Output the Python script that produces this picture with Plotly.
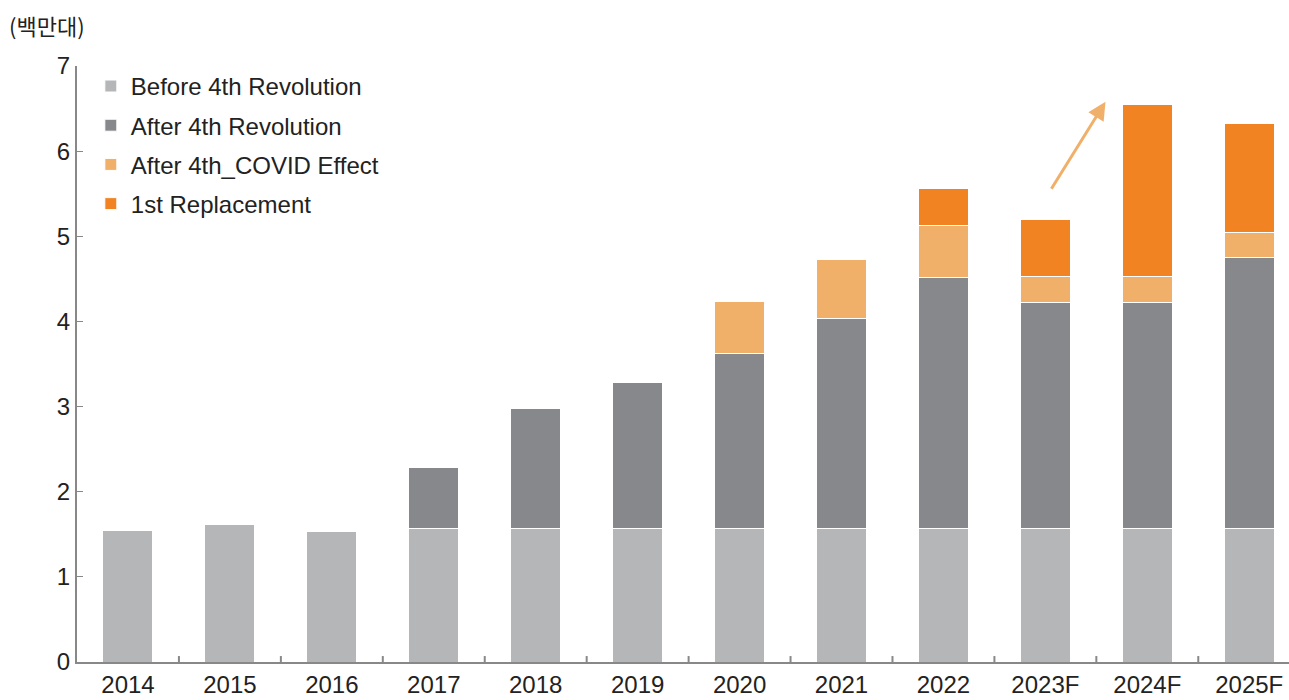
import plotly.graph_objects as go

years = ["2014", "2015", "2016", "2017", "2018", "2019", "2020", "2021", "2022", "2023F", "2024F", "2025F"]
before_4th = [1.55, 1.61, 1.53, 1.57, 1.57, 1.57, 1.57, 1.57, 1.57, 1.57, 1.57, 1.57]
after_4th = [0, 0, 0, 0.71, 1.41, 1.71, 2.05, 2.46, 2.95, 2.65, 2.65, 3.18]
covid_effect = [0, 0, 0, 0, 0, 0, 0.61, 0.70, 0.61, 0.31, 0.31, 0.30]
replacement = [0, 0, 0, 0, 0, 0, 0, 0, 0.43, 0.67, 2.02, 1.27]

series = [
    ("Before 4th Revolution", before_4th, "#b5b6b8"),
    ("After 4th Revolution", after_4th, "#86888b"),
    ("After 4th_COVID Effect", covid_effect, "#f0b06a"),
    ("1st Replacement", replacement, "#f28322"),
]

FONT = "Liberation Sans, Noto Sans CJK KR"
fig = go.Figure()
for i, (name, vals, color) in enumerate(series):
    fig.add_trace(go.Bar(
        x=years, y=[v if v > 0 else None for v in vals], name=name,
        marker=dict(color=color, line=dict(color="white", width=1)),
        width=0.49, legendgroup=f"g{i}",
    ))

fig.add_annotation(
    x=9.59, y=6.58, ax=9.05, ay=5.54, xref="x", yref="y", axref="x", ayref="y",
    showarrow=True, arrowhead=2, arrowsize=1.2, arrowwidth=3, arrowcolor="#f0b06a", text="",
)
fig.add_annotation(
    x=0, y=1, xref="paper", yref="paper", xanchor="left", yanchor="top",
    xshift=-70, yshift=59, text="(백만대)", showarrow=False,
    font=dict(family="Noto Sans CJK KR", size=22, color="#222"),
)

fig.update_layout(
    width=1289, height=700,
    margin=dict(l=77, r=0, t=66, b=38),
    paper_bgcolor="white", plot_bgcolor="white",
    barmode="stack",
    font=dict(family=FONT, size=24, color="#222"),
    showlegend=True,
    legend=dict(
        x=0.0114, y=1.0035, xanchor="left", yanchor="top",
        traceorder="grouped", tracegroupgap=5,
        font=dict(family=FONT, size=24, color="#222"),
        bgcolor="rgba(0,0,0,0)", itemwidth=30,
    ),
    xaxis=dict(
        range=[-0.5, 11.39], showline=True, linecolor="#888", linewidth=2,
        ticks="", showgrid=False, tickfont=dict(size=24),
    ),
    yaxis=dict(
        range=[0, 7], dtick=1, showline=True, linecolor="#888", linewidth=2,
        ticks="inside", ticklen=6, tickcolor="#888", showgrid=False, zeroline=False,
        tickfont=dict(size=24),
    ),
)

# category boundary ticks along x axis (inside)
for k in range(1, 12):
    fig.add_shape(type="line", xref="x", yref="paper", x0=k - 0.5, x1=k - 0.5,
                  y0=0, y1=0.01, line=dict(color="#888", width=2))

fig.write_html("out.html")
